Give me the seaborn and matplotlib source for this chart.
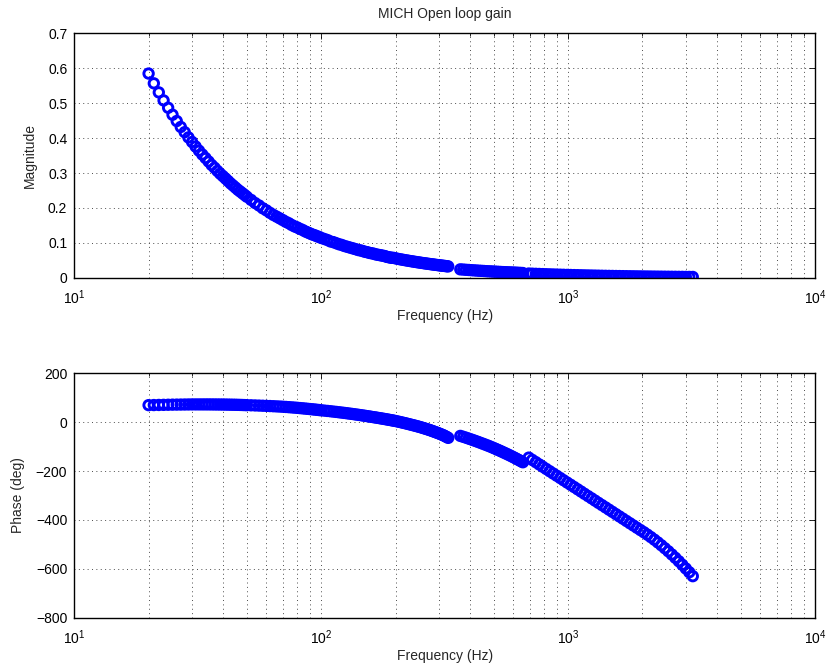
import matplotlib
matplotlib.use("Agg")
import matplotlib.pyplot as plt
import numpy as np
import pandas as pd
import seaborn as sns
from matplotlib.ticker import LogLocator, FixedLocator, FuncFormatter, NullFormatter

# ---------------- data ----------------
# Band 1 : 20 Hz .. 327 Hz
freq_band1 = [20, 21, 22, 23, 24, 25, 26, 27, 28, 29, 30, 31, 32, 33, 34, 35, 36, 37, 38, 39, 40,
              41, 42, 43, 44, 45, 46, 47, 48, 49, 50,
              52, 54, 56, 58, 60, 62, 64, 66, 68, 70, 72, 74, 76, 78, 80, 82, 84, 86, 88, 90,
              92, 94, 96, 98, 100,
              103, 106, 109, 112, 115, 118, 121, 124, 127, 130, 133, 136, 139, 142, 145, 148,
              151, 154, 157, 160, 163, 166, 169, 172, 175, 178, 181, 184, 187, 190, 193, 196, 199,
              203, 207, 211, 215, 219, 223, 227, 231, 235, 239, 243, 247, 251, 255, 259, 263,
              267, 271, 275, 279, 283, 287, 291, 295, 299, 303, 307, 311, 315, 319, 323, 327]
mag_band1 = [0.585, 0.557, 0.531, 0.508, 0.487, 0.467, 0.449, 0.432, 0.417, 0.402, 0.389,
             0.376, 0.364, 0.353, 0.343, 0.333, 0.323, 0.315, 0.306, 0.298, 0.291,
             0.284, 0.277, 0.270, 0.264, 0.258, 0.252, 0.247, 0.242, 0.237, 0.232,
             0.223, 0.214, 0.207, 0.199, 0.193, 0.186, 0.180, 0.175, 0.170, 0.165, 0.160,
             0.156, 0.151, 0.147, 0.144, 0.140, 0.137, 0.133, 0.130, 0.127, 0.124, 0.122,
             0.119, 0.117, 0.114,
             0.111, 0.108, 0.104, 0.102, 0.099, 0.096, 0.094, 0.091, 0.089, 0.087, 0.085,
             0.083, 0.081, 0.079, 0.078, 0.076, 0.074, 0.073, 0.071, 0.070, 0.069, 0.067,
             0.066, 0.065, 0.064, 0.063, 0.062, 0.060, 0.059, 0.058, 0.057, 0.057, 0.056,
             0.0545, 0.0534, 0.0523, 0.0512, 0.0502, 0.0493, 0.0483, 0.0474, 0.0466, 0.0457,
             0.0449, 0.0441, 0.0434, 0.0426, 0.0419, 0.0412, 0.0406, 0.0399, 0.0393, 0.0387,
             0.0381, 0.0375, 0.0369, 0.0364, 0.0359, 0.0353, 0.0348, 0.0343, 0.0339, 0.0334,
             0.0329, 0.0325]
phase_band1 = [70.0, 70.4, 70.8, 71.2, 71.6, 72.0, 72.2, 72.4, 72.6, 72.8, 73.0, 73.0, 73.0,
               73.0, 73.0, 73.0, 72.9, 72.8, 72.7, 72.6, 72.5, 72.3, 72.1, 71.9, 71.7, 71.5,
               71.2, 70.9, 70.6, 70.3, 70.0,
               69.4, 68.8, 68.2, 67.6, 67.0, 66.3, 65.6, 64.9, 64.2, 63.5, 62.6, 61.7, 60.8,
               59.9, 59.0, 58.0, 57.0, 56.0, 55.0, 54.0, 53.0, 52.0, 51.0, 50.0, 49.0,
               47.6, 46.3, 45.0, 43.6, 42.3, 40.9, 39.6, 38.2, 36.9, 35.5, 34.2, 32.8, 31.5,
               30.1, 28.8, 27.4, 26.1, 24.7, 23.4, 22.0, 20.7, 19.5, 18.2, 16.9, 15.6, 14.4,
               13.1, 11.8, 10.5, 9.3, 8.0, 6.7, 5.4,
               3.6, 1.6, -0.3, -2.2, -4.1, -6.0, -8.0, -9.9, -11.8, -13.7, -15.6, -17.6,
               -19.5, -21.6, -23.7, -25.8, -27.8, -29.9, -32.0, -34.2, -36.5, -38.7, -41.0,
               -43.2, -45.4, -47.8, -50.2, -52.6, -55.0, -58.0, -61.0, -64.0]

# Band 2 : 366 Hz .. 656 Hz
freq_band2 = [366, 376, 386, 396, 406, 416, 426, 436, 446, 456, 466, 476, 486, 496, 506,
              516, 526, 536, 546, 556, 566, 576, 586, 596, 606, 616, 626, 636, 646, 656]
mag_band2 = [0.0240, 0.0234, 0.0227, 0.0222, 0.0216, 0.0211, 0.0206, 0.0201, 0.0197, 0.0193,
             0.0188, 0.0184, 0.0181, 0.0177, 0.0174, 0.0170, 0.0167, 0.0164, 0.0161, 0.0158,
             0.0155, 0.0152, 0.0150, 0.0147, 0.0145, 0.0143, 0.0140, 0.0138, 0.0136, 0.0134]
phase_band2 = [-56.0, -59.7, -63.4, -67.2, -70.9, -74.6, -78.3, -82.0, -85.8, -89.5, -93.2,
               -96.9, -100.6, -104.4, -108.1, -111.8, -115.5, -119.2, -123.0, -126.7, -130.4,
               -134.1, -137.8, -141.6, -145.3, -149.0, -152.7, -156.4, -160.2, -163.9]

# Band 3 : 693 Hz .. 3199 Hz
freq_band3 = [693, 716, 740, 764, 789, 815, 842, 870, 899, 929, 959, 991, 1024, 1058, 1093,
              1129, 1166, 1205, 1245, 1286, 1328, 1372, 1418, 1465, 1513, 1563, 1615, 1668,
              1723, 1780, 1839, 1900, 1963, 2028, 2095, 2164, 2236, 2310, 2386, 2465, 2547,
              2631, 2718, 2808, 2901, 2997, 3096, 3199]
mag_band3 = [0.01200, 0.01158, 0.01117, 0.01078, 0.01040, 0.01003, 0.00968, 0.00934, 0.00901,
             0.00869, 0.00839, 0.00809, 0.00781, 0.00753, 0.00727, 0.00701, 0.00676, 0.00653,
             0.00630, 0.00608, 0.00586, 0.00566, 0.00546, 0.00527, 0.00508, 0.00490, 0.00473,
             0.00456, 0.00440, 0.00425, 0.00410, 0.00395, 0.00381, 0.00368, 0.00355, 0.00343,
             0.00331, 0.00319, 0.00308, 0.00297, 0.00286, 0.00276, 0.00267, 0.00257, 0.00248,
             0.00239, 0.00231, 0.00223]
phase_band3 = [-145.0, -154.3, -163.5, -172.8, -182.1, -191.3, -200.6, -209.9, -219.1, -228.4,
               -237.7, -247.0, -256.2, -265.5, -274.8, -284.0, -293.3, -302.6, -311.8, -321.1,
               -330.4, -339.6, -348.9, -358.2, -367.4, -376.7, -386.0, -395.2, -404.5, -413.8,
               -423.0, -432.3, -441.6, -450.8, -460.5, -470.6, -481.2, -492.4, -504.0, -516.1,
               -528.7, -541.8, -555.4, -569.4, -584.0, -599.1, -614.5, -630.6]

title_text = "MICH Open loop gain"
xlabel_text = "Frequency (Hz)"
mag_label = "Magnitude"
phase_label = "Phase (deg)"
mag_ticks = [0, 0.1, 0.2, 0.3, 0.4, 0.5, 0.6, 0.7]
phase_ticks = [-800, -600, -400, -200, 0, 200]
freq_ticks = [10, 100, 1000, 10000]

df = pd.DataFrame({
    "freq": freq_band1 + freq_band2 + freq_band3,
    "mag": mag_band1 + mag_band2 + mag_band3,
    "phase": phase_band1 + phase_band2 + phase_band3,
    "band": ["1"] * len(freq_band1) + ["2"] * len(freq_band2) + ["3"] * len(freq_band3),
})

# ---------------- style ----------------
sns.set_style("white")
plt.rcParams["font.family"] = ["Liberation Sans", "DejaVu Sans"]
plt.rcParams["mathtext.fontset"] = "custom"
plt.rcParams["mathtext.rm"] = "Liberation Sans"
plt.rcParams["mathtext.it"] = "Liberation Sans:italic"
plt.rcParams["font.size"] = 10
plt.rcParams["axes.unicode_minus"] = True

fig = plt.figure(figsize=(8.27, 6.71), dpi=100)
fig.patch.set_facecolor("white")
ax1 = fig.add_axes([0.0898, 0.5861, 0.8957, 0.3641])
ax2 = fig.add_axes([0.0898, 0.0797, 0.8957, 0.3638])

marker_kw = dict(marker="o", s=46, facecolors="none", edgecolors="#0000ff",
                 linewidths=2.1, legend=False)

sns.scatterplot(data=df, x="freq", y="mag", ax=ax1, **marker_kw)
sns.scatterplot(data=df, x="freq", y="phase", ax=ax2, **marker_kw)


def fmt_num(v, pos=None):
    s = f"{v:g}"
    return s.replace("-", "\u2212")


grid_kw = dict(linestyle=(0, (1, 3.5)), color="0.3", linewidth=0.7)

for ax, ylab, yt in [(ax1, mag_label, mag_ticks), (ax2, phase_label, phase_ticks)]:
    ax.set_xscale("log")
    ax.set_xlim(freq_ticks[0], freq_ticks[-1])
    ax.xaxis.set_major_locator(FixedLocator(freq_ticks))
    ax.xaxis.set_minor_locator(LogLocator(base=10, subs=np.arange(2, 10), numticks=20))
    ax.xaxis.set_minor_formatter(NullFormatter())
    ax.set_ylim(yt[0], yt[-1])
    ax.yaxis.set_major_locator(FixedLocator(yt))
    ax.yaxis.set_major_formatter(FuncFormatter(fmt_num))
    ax.set_xlabel(xlabel_text, fontsize=10, labelpad=1)
    ax.set_ylabel(ylab, fontsize=10, labelpad=8)
    ax.tick_params(which="both", direction="in", top=True, right=True, colors="black",
                   labelsize=10, width=0.6)
    ax.tick_params(which="major", length=4.5)
    ax.tick_params(which="minor", length=2.5)
    ax.tick_params(axis="x", which="major", pad=8)
    ax.tick_params(axis="y", which="major", pad=5)
    ax.grid(True, which="major", axis="both", **grid_kw)
    ax.grid(True, which="minor", axis="x", **grid_kw)
    ax.set_axisbelow(True)
    for sp in ax.spines.values():
        sp.set_visible(True)
        sp.set_color("black")
        sp.set_linewidth(1.0)

ax1.set_title(title_text, fontsize=10, pad=11)

fig.savefig("out.png", dpi=100, facecolor="white")
